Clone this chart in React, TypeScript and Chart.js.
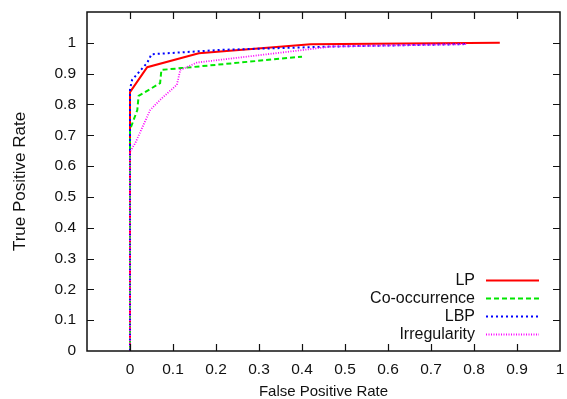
import React, { useEffect, useRef } from "react";
import { Chart, registerables } from "chart.js";

Chart.register(...registerables);

// ---- data ----
const seriesNames = ["LP", "Co-occurrence", "LBP", "Irregularity"];

const lpX = [0, 0, 0.04, 0.16, 0.42, 0.86];
const lpY = [0, 0.84, 0.921, 0.966, 0.995, 1.0];

const coX = [0, 0, 0.017, 0.02, 0.07, 0.073, 0.12, 0.40];
const coY = [0, 0.718, 0.782, 0.828, 0.869, 0.912, 0.918, 0.955];

const lbpX = [0, 0, 0.005, 0.04, 0.05, 0.21, 0.47, 0.785];
const lbpY = [0, 0.85, 0.88, 0.935, 0.963, 0.977, 0.988, 0.996];

const irX = [0, 0, 0.012, 0.047, 0.07, 0.109, 0.117, 0.156, 0.41, 0.47, 0.785];
const irY = [0, 0.647, 0.674, 0.782, 0.815, 0.864, 0.912, 0.936, 0.978, 0.988, 0.996];

const xTickValues = [0, 0.1, 0.2, 0.3, 0.4, 0.5, 0.6, 0.7, 0.8, 0.9];
const yTickValues = [0.1, 0.2, 0.3, 0.4, 0.5, 0.6, 0.7, 0.8, 0.9, 1.0];

const FONT = "'Liberation Sans', Arial, Helvetica, sans-serif";

const styles = [
  { color: "#ff0000", width: 2, dash: [] as number[] },
  { color: "#00e600", width: 2, dash: [5, 3] },
  { color: "#0000ff", width: 2, dash: [2, 3] },
  { color: "#ff00ff", width: 1.8, dash: [1, 1.5] },
];

const toPts = (xs: number[], ys: number[]) => xs.map((x, i) => ({ x, y: ys[i] }));

const framePlugin = {
  id: "frameTicks",
  afterDatasetsDraw(chart: any) {
    const { ctx, chartArea, scales } = chart;
    const { left, right, top, bottom } = chartArea;
    ctx.save();
    ctx.strokeStyle = "#111";
    ctx.lineWidth = 1.2;
    const tl = 7;
    ctx.beginPath();
    xTickValues.forEach((v) => {
      const px = Math.round(scales.x.getPixelForValue(v)) + 0.5;
      ctx.moveTo(px, bottom);
      ctx.lineTo(px, bottom - tl);
      ctx.moveTo(px, top);
      ctx.lineTo(px, top + tl);
    });
    yTickValues.forEach((v) => {
      const py = Math.round(scales.y.getPixelForValue(v)) + 0.5;
      ctx.moveTo(left, py);
      ctx.lineTo(left + tl, py);
      ctx.moveTo(right, py);
      ctx.lineTo(right - tl, py);
    });
    ctx.stroke();
    ctx.lineWidth = 1.5;
    ctx.strokeStyle = "#111";
    ctx.strokeRect(left, top, right - left, bottom - top);
    ctx.restore();

    // legend
    ctx.save();
    ctx.font = `16px ${FONT}`;
    ctx.fillStyle = "#111";
    ctx.textAlign = "right";
    ctx.textBaseline = "middle";
    seriesNames.forEach((name, i) => {
      const y = bottom - 70.5 + i * 18;
      ctx.fillText(name, right - 85, y + 0.5);
      const s = styles[i];
      ctx.strokeStyle = s.color;
      ctx.lineWidth = s.width;
      ctx.setLineDash(s.dash);
      ctx.beginPath();
      ctx.moveTo(right - 74, y);
      ctx.lineTo(right - 21, y);
      ctx.stroke();
    });
    ctx.restore();
  },
};

export default function App() {
  const ref = useRef<HTMLCanvasElement | null>(null);

  useEffect(() => {
    if (!ref.current) return;
    const data = [toPts(lpX, lpY), toPts(coX, coY), toPts(lbpX, lbpY), toPts(irX, irY)];
    const chart = new Chart(ref.current, {
      type: "line",
      data: {
        datasets: seriesNames.map((name, i) => ({
          label: name,
          data: data[i],
          borderColor: styles[i].color,
          borderWidth: styles[i].width,
          borderDash: styles[i].dash,
          pointRadius: 0,
          tension: 0,
          fill: false,
          order: 3 - i,
        })),
      },
      options: {
        animation: false,
        responsive: false,
        maintainAspectRatio: false,
        layout: { padding: { top: 12, right: 7, left: 0, bottom: 0 } },
        plugins: {
          legend: { display: false },
          tooltip: { enabled: false },
        },
        scales: {
          x: {
            type: "linear",
            min: -0.1,
            max: 1.0,
            afterFit: (s: any) => {
              s.height = 48;
              s.paddingLeft = 0;
              s.paddingRight = 0;
            },
            grid: { display: false, drawTicks: false, tickLength: 0 },
            border: { display: false },
            ticks: {
              stepSize: 0.1,
              autoSkip: false,
              maxRotation: 0,
              padding: 9,
              color: "#111",
              font: { family: FONT, size: 15.5 },
              callback: (v: any) => {
                const n = Number(v);
                if (n < -0.05) return "";
                return String(Math.round(n * 10) / 10);
              },
            },
            title: {
              display: true,
              text: "False Positive Rate",
              color: "#111",
              font: { family: FONT, size: 15 },
              padding: { top: 0, bottom: -2 },
            },
          },
          y: {
            type: "linear",
            min: 0,
            max: 1.1,
            afterFit: (s: any) => {
              s.width = 87;
              s.paddingTop = 0;
              s.paddingBottom = 0;
            },
            grid: { display: false, drawTicks: false, tickLength: 0 },
            border: { display: false },
            ticks: {
              stepSize: 0.1,
              autoSkip: false,
              padding: 11,
              color: "#111",
              font: { family: FONT, size: 15.5 },
              callback: (v: any) => {
                const n = Number(v);
                if (n > 1.05) return "";
                return String(Math.round(n * 10) / 10);
              },
            },
            title: {
              display: true,
              text: "True Positive Rate",
              color: "#111",
              font: { family: FONT, size: 17 },
              padding: { top: 10, bottom: 0 },
            },
          },
        },
      },
      plugins: [framePlugin],
    });
    return () => chart.destroy();
  }, []);

  return (
    <div style={{ position: "absolute", left: 0, top: 0, width: 567, height: 399, background: "#fff" }}>
      <canvas ref={ref} width={567} height={399} style={{ display: "block" }} />
    </div>
  );
}
